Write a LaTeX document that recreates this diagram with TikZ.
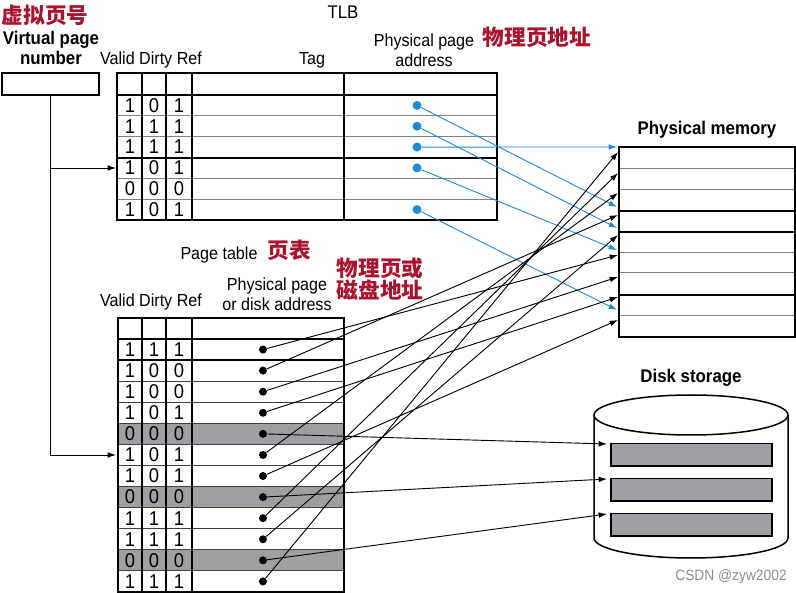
\documentclass[tikz,border=0pt]{standalone}
\usepackage{fontspec}
\setmainfont{Liberation Sans}[FakeStretch=0.92]
\newfontfamily\cjk{Noto Sans CJK SC}
\usepackage{tikz}
\usetikzlibrary{arrows.meta}

\definecolor{cnred}{RGB}{170,18,45}
\definecolor{tlbblue}{RGB}{30,140,215}
\definecolor{offgray}{RGB}{158,158,164}

\begin{document}
\begin{tikzpicture}[x=0.6pt, y=-0.6pt,
    frame/.style={line width=0.9pt},
    rowline/.style={line width=0.6pt, black!50},
    darkline/.style={line width=0.8pt, black},
    cell/.style={font=\fontsize{12}{14}\selectfont, inner sep=0pt},
    head/.style={font=\fontsize{10.5}{12}\selectfont, align=center, inner sep=0pt},
    title/.style={font=\bfseries\fontsize{11}{12}\selectfont, align=center, inner sep=0pt},
    cn/.style={font=\cjk\bfseries\fontsize{13}{13.5}\selectfont, text=cnred, align=left, inner sep=0pt},
    dot/.style={circle, fill=black, inner sep=0pt, minimum size=4.8pt},
    bdot/.style={circle, fill=tlbblue, inner sep=0pt, minimum size=5.4pt},
    arrow/.style={-{Latex[length=5pt, width=3.4pt]}, line width=0.55pt},
    barrow/.style={arrow, tlbblue},
    bar/.style={draw, line width=0.9pt, fill=offgray, minimum width=96.6pt,
                minimum height=13.5pt, inner sep=0pt}
]
    \useasboundingbox (0,0) rectangle (796,593);

    % Virtual page number
    \node[cn] (vpncn) at (45,15) {虚拟页号};
    \node[title] (vpnlbl) at (51,48) {Virtual page\\number};
    \node[draw, frame, minimum width=58.2pt, minimum height=13.2pt, inner sep=0pt] (vpn) at (50.5,84) {};

    % TLB headings
    \node[head, font=\fontsize{11}{12}\selectfont] (tlblbl) at (343,12) {TLB};
    \node[head] (tlbvdr) at (151,60) {Valid Dirty Ref};
    \node[head] (tlbtag) at (312,60) {Tag};
    \node[head] (tlbppa) at (424,50) {Physical page\\address};
    \node[cn] (tlbcn) at (537,37) {物理页地址};

    % TLB table
    \draw[rowline] (117,116) -- (497,116) (117,137) -- (497,137)
                   (117,179) -- (497,179) (117,200) -- (497,200);
    \draw[darkline] (117,95) -- (497,95) (117,158) -- (497,158);
    \foreach \x in {142,166,192,344}
        \draw[darkline] (\x,73) -- (\x,220);
    \draw[frame] (117,73) rectangle (497,220);
    \foreach \v/\d/\r [count=\i] in {1/0/1,1/1/1,1/1/1,1/0/1,0/0/0,1/0/1} {
        \pgfmathsetmacro\yc{95+20.83*(\i-0.5)}
        \node[cell] (tv\i) at (130,\yc) {\v};
        \node[cell] (td\i) at (154,\yc) {\d};
        \node[cell] (tr\i) at (179,\yc) {\r};
    }

    % Physical memory
    \node[title] (memlbl) at (707,130) {Physical memory};
    \foreach \y in {169,190,253,273,316}
        \draw[rowline] (619,\y) -- (795,\y);
    \foreach \y in {211,232,295}
        \draw[darkline] (619,\y) -- (795,\y);
    \draw[frame] (619,147) rectangle (795,337);

    % TLB to memory
    \foreach \i/\t in {1/207, 2/228, 3/147, 4/250, 6/310} {
        \pgfmathsetmacro\yc{95+20.83*(\i-0.5)}
        \node[bdot] (ta\i) at (417,\yc) {};
        \coordinate (mt\i) at (617,\t);
        \draw[barrow] (ta\i) -- (mt\i);
    }

    % Page table headings
    \node[head] (ptlbl) at (219,255) {Page table};
    \node[cn] (ptcn) at (289,250) {页表};
    \node[head] (ptvdr) at (151,302) {Valid Dirty Ref};
    \node[head] (ptppa) at (277,294) {Physical page\\or disk address};
    \node[cn] (ptcn2) at (380,279) {物理页或\\磁盘地址};

    % Page table
    \foreach \i in {5,8,11}
        \fill[offgray] (118,{339+21.08*(\i-1)}) rectangle (344,{339+21.08*\i});
    \foreach \k in {2,...,11}
        \draw[rowline, black!75] (118,{339+21.08*\k}) -- (344,{339+21.08*\k});
    \draw[darkline] (118,339) -- (344,339) (118,360) -- (344,360);
    \foreach \x in {142,166,192}
        \draw[darkline] (\x,318) -- (\x,592);
    \draw[frame] (118,318) rectangle (344,592);
    \foreach \v/\d/\r [count=\i] in {1/1/1,1/0/0,1/0/0,1/0/1,0/0/0,1/0/1,
                                     1/0/1,0/0/0,1/1/1,1/1/1,0/0/0,1/1/1} {
        \pgfmathsetmacro\yc{339+21.08*(\i-0.5)}
        \node[cell] (pv\i) at (130,\yc) {\v};
        \node[cell] (pd\i) at (154,\yc) {\d};
        \node[cell] (pr\i) at (179,\yc) {\r};
        \node[dot] (pa\i) at (263,\yc) {};
    }

    % Virtual page number into TLB and page table
    \coordinate (tlbin) at (116,168);
    \coordinate (ptin) at (116,455);
    \draw[arrow] (vpn.south) |- (ptin);
    \draw[arrow] (vpn.south |- tlbin) -- (tlbin);

    % Page table to memory
    \foreach \i/\t in {1/255, 2/215, 3/277, 4/297, 6/193, 7/320, 9/173, 10/235, 12/152} {
        \coordinate (mp\i) at (618,\t);
        \draw[arrow] (pa\i) -- (mp\i);
    }

    % Disk storage
    \node[title] (disklbl) at (691,378) {Disk storage};
    \draw[frame] (594,415) -- (594,538) arc[start angle=180, end angle=0, x radius=97, y radius=20] -- (788,415);
    \draw[frame] (691,415) ellipse [x radius=97, y radius=20];
    \node[bar] (bar1) at (691.5,455) {};
    \node[bar] (bar2) at (691.5,489.5) {};
    \node[bar] (bar3) at (691.5,524.5) {};
    \coordinate (da1) at (607,444);
    \coordinate (da2) at (607,479);
    \coordinate (da3) at (607,514);
    \draw[arrow] (pa5) -- (da1);
    \draw[arrow] (pa8) -- (da2);
    \draw[arrow] (pa11) -- (da3);

    \node[font=\fontsize{9}{11}\selectfont, text=black!45, inner sep=0pt] (mark) at (731,577) {CSDN @zyw2002};
\end{tikzpicture}
\end{document}
